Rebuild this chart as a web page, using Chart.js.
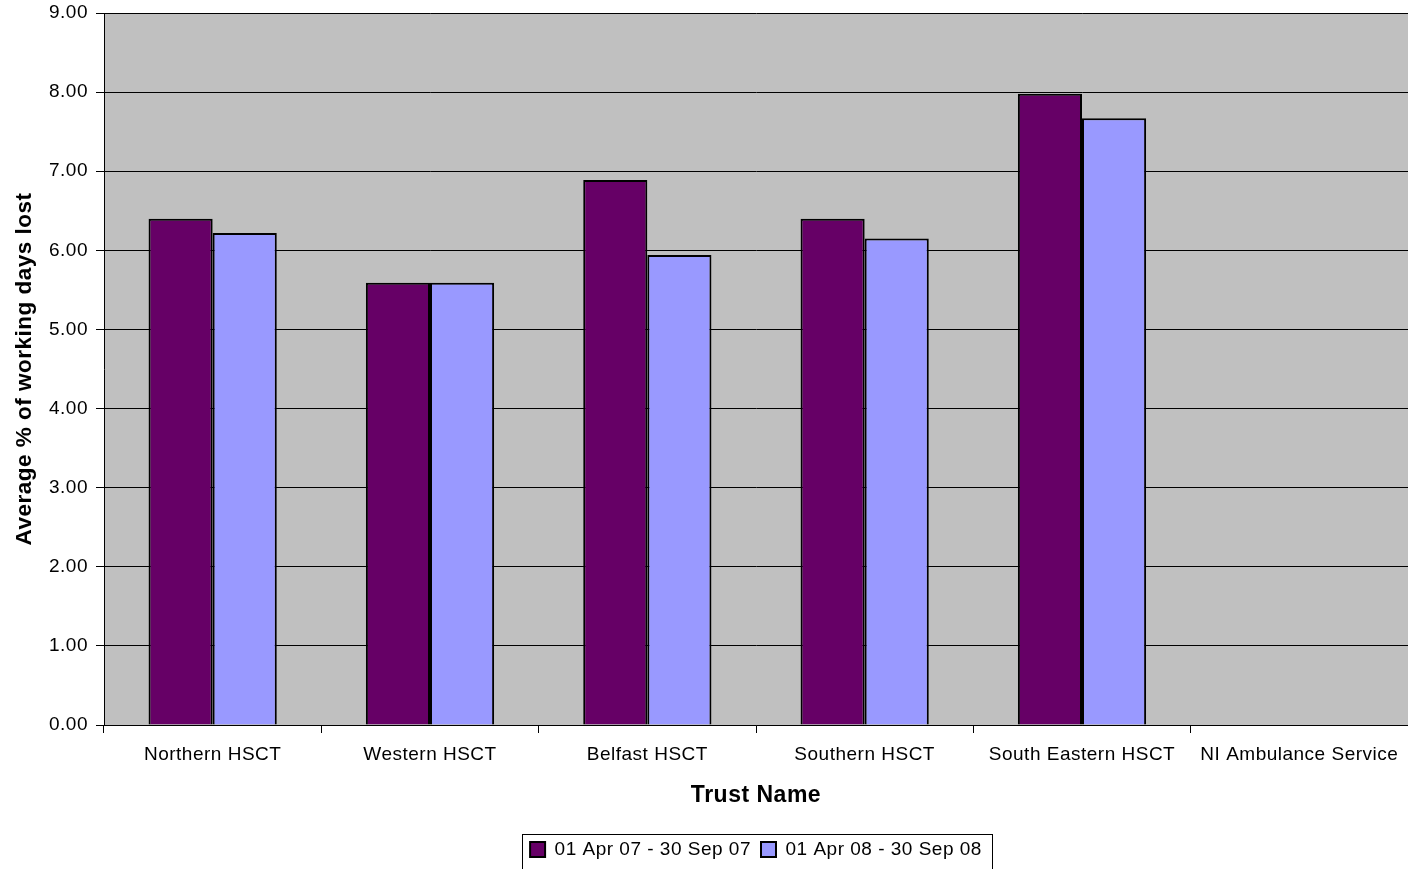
<!DOCTYPE html>
<html>
<head>
<meta charset="utf-8">
<script src="https://cdn.jsdelivr.net/npm/chart.js@4"></script>
<style>
  html, body { margin: 0; padding: 0; background: #fff; overflow: hidden; }
  #wrap { width: 1408px; height: 869px; }
</style>
</head>
<body>
<div id="wrap"><canvas id="chart" width="1408" height="869"></canvas></div>
<script>
var trusts = ['Northern HSCT', 'Western HSCT', 'Belfast HSCT', 'Southern HSCT', 'South Eastern HSCT', 'NI Ambulance Service'];
var period07 = [6.40, 5.59, 6.89, 6.40, 7.98, null];
var period08 = [6.22, 5.59, 5.94, 6.15, 7.67, null];
var seriesNames = ['01 Apr 07 - 30 Sep 07', '01 Apr 08 - 30 Sep 08'];

var FONT = '"Liberation Sans", Arial, sans-serif';

// the original text is a touch spread out
var spacing = {
  id: 'spacing',
  beforeLayout: function (chart) { chart.ctx.letterSpacing = '0.5px'; },
  beforeDraw: function (chart) { chart.ctx.letterSpacing = '0.5px'; }
};

// grey plot background
var plotBg = {
  id: 'plotBg',
  beforeDraw: function (chart) {
    var a = chart.chartArea, c = chart.ctx;
    c.save();
    c.fillStyle = '#c0c0c0';
    c.fillRect(a.left, a.top, a.right - a.left, a.bottom - a.top);
    c.restore();
  }
};

// frame round the legend
var legendFrame = {
  id: 'legendFrame',
  afterDraw: function (chart) {
    var l = chart.legend, c = chart.ctx;
    if (!l || !l.legendItems.length) return;
    var hb = l.legendHitBoxes;
    var x0 = hb[0].left - 8;
    var last = hb[hb.length - 1];
    var x1 = last.left + last.width + 10;
    c.save();
    c.strokeStyle = '#000';
    c.lineWidth = 1;
    c.strokeRect(Math.round(x0) + 0.5, Math.round(hb[0].top - 6) + 0.5, Math.round(x1 - x0), 60);
    c.restore();
  }
};

new Chart(document.getElementById('chart'), {
  type: 'bar',
  data: {
    labels: trusts,
    datasets: [{
      label: seriesNames[0],
      data: period07,
      backgroundColor: '#660066',
      borderColor: '#000',
      borderWidth: 2,
      categoryPercentage: 0.59,
      barPercentage: 1.0
    }, {
      label: seriesNames[1],
      data: period08,
      backgroundColor: '#9999ff',
      borderColor: '#000',
      borderWidth: 2,
      categoryPercentage: 0.59,
      barPercentage: 1.0
    }]
  },
  options: {
    responsive: false,
    animation: false,
    layout: { padding: { top: 13, right: 0, left: 0, bottom: 0 } },
    plugins: {
      legend: {
        position: 'bottom',
        fullSize: false,
        labels: {
          font: { family: FONT, size: 19 },
          color: '#000',
          boxWidth: 15,
          boxHeight: 15,
          padding: 10,
          generateLabels: function (chart) {
            return chart.data.datasets.map(function (ds, i) {
              return {
                text: ds.label,
                fillStyle: ds.backgroundColor,
                strokeStyle: '#000',
                lineWidth: 2,
                datasetIndex: i
              };
            });
          }
        }
      },
      tooltip: { enabled: false }
    },
    scales: {
      x: {
        grid: {
          drawOnChartArea: false,
          drawTicks: true,
          tickLength: 8,
          color: '#000',
          offset: true
        },
        border: { color: '#000', width: 1 },
        ticks: {
          font: { family: FONT, size: 19 },
          color: '#000',
          padding: 10,
          maxRotation: 0,
          autoSkip: false
        },
        title: {
          display: true,
          text: 'Trust Name',
          font: { family: FONT, size: 23, weight: 'bold' },
          color: '#000',
          padding: { top: 0, bottom: 21 }
        },
        afterFit: function (s) { s.height = 105; s.paddingLeft = 0; s.paddingRight = 0; }
      },
      y: {
        min: 0,
        max: 9,
        grid: {
          color: '#000',
          lineWidth: 1,
          drawTicks: true,
          tickLength: 8
        },
        border: { color: '#000', width: 1 },
        ticks: {
          stepSize: 1,
          font: { family: FONT, size: 19 },
          color: '#000',
          padding: 8,
          callback: function (v) { return Number(v).toFixed(2); }
        },
        title: {
          display: true,
          text: 'Average % of working days lost',
          font: { family: FONT, size: 22.5, weight: 'bold' },
          color: '#000',
          padding: { top: 11, bottom: 0 }
        },
        afterFit: function (s) { s.width = 104; s.paddingTop = 0; s.paddingBottom = 0; }
      }
    }
  },
  plugins: [spacing, plotBg, legendFrame]
});
</script>
</body>
</html>
